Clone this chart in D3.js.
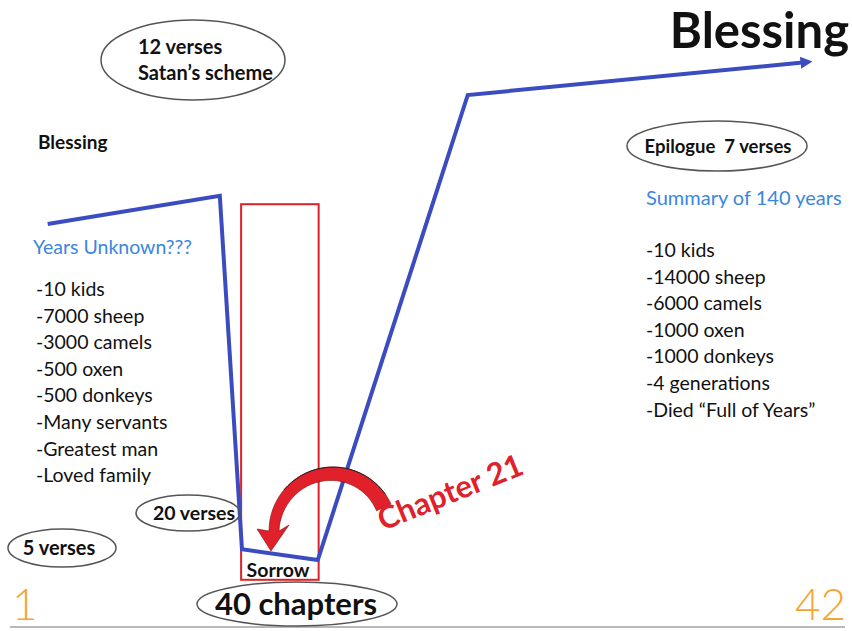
<!DOCTYPE html>
<html>
<head>
<meta charset="utf-8">
<script src="https://cdn.jsdelivr.net/npm/d3@7"></script>
<style>
  body { margin: 0; background: #fff; }
  svg { display: block; font-family: Lato, "Open Sans", sans-serif; }
</style>
</head>
<body>
<div id="chart"></div>
<script>
const width = 852, height = 631;

// journey line: horizontal position (% of page) and blessing level (0-100)
const pathPos   = [5.6, 25.8, 28.4, 37.3, 54.9, 94.8];
const pathLevel = [66, 70.7, 11.8, 10, 87.5, 93];

// sorrow box (position span, level span)
const sorrowPos   = [28.3, 37.4];
const sorrowLevel = [69.3, 6.7];

const leftTitle  = "Years Unknown???";
const leftItems  = ["-10 kids", "-7000 sheep", "-3000 camels", "-500 oxen",
                    "-500 donkeys", "-Many servants", "-Greatest man", "-Loved family"];
const rightTitle = "Summary of 140 years";
const rightItems = ["-10 kids", "-14000 sheep", "-6000 camels", "-1000 oxen",
                    "-1000 donkeys", "-4 generations", "-Died \u201cFull of Years\u201d"];
const chapterEnds = ["1", "42"];

const svg = d3.select("#chart").append("svg")
  .attr("width", width).attr("height", height);

const x = d3.scaleLinear().domain([0, 100]).range([0, width]);
const y = d3.scaleLinear().domain([0, 100]).range([620, 20]);

const blue = "#3a4cbf", red = "#e0202a", lblue = "#3a86e0", orange = "#f6a532";

/*---- defs ----*/
svg.append("defs").append("marker")
  .attr("id", "arrowBlue")
  .attr("viewBox", "0 0 10 10")
  .attr("refX", 6).attr("refY", 5)
  .attr("markerWidth", 3).attr("markerHeight", 3)
  .attr("orient", "auto")
  .append("path").attr("d", "M0,0 L10,5 L0,10 z").attr("fill", blue);

/*---- bottom rule ----*/
svg.append("line")
  .attr("x1", 10).attr("x2", 845).attr("y1", 627).attr("y2", 627)
  .attr("stroke", "#b8b8b8").attr("stroke-width", 2);

/*---- sorrow box ----*/
svg.append("rect")
  .attr("x", x(sorrowPos[0])).attr("y", y(sorrowLevel[0]))
  .attr("width", x(sorrowPos[1]) - x(sorrowPos[0]))
  .attr("height", y(sorrowLevel[1]) - y(sorrowLevel[0]))
  .attr("fill", "none").attr("stroke", red).attr("stroke-width", 2);

/*---- journey line ----*/
const pts = pathPos.map((p, i) => [x(p), y(pathLevel[i])]);
svg.append("path")
  .attr("d", d3.line()(pts))
  .attr("fill", "none").attr("stroke", blue).attr("stroke-width", 4)
  .attr("stroke-linejoin", "miter")
  .attr("marker-end", "url(#arrowBlue)");

/*---- ellipses ----*/
const ellipses = [
  {cx: 193, cy: 60, rx: 92, ry: 40},
  {cx: 717, cy: 146, rx: 90, ry: 25},
  {cx: 188, cy: 513, rx: 52, ry: 18},
  {cx: 62, cy: 548, rx: 54, ry: 19},
  {cx: 297, cy: 604, rx: 100, ry: 22}
];
svg.selectAll("ellipse.note").data(ellipses).enter().append("ellipse")
  .attr("class", "note")
  .attr("cx", d => d.cx).attr("cy", d => d.cy)
  .attr("rx", d => d.rx).attr("ry", d => d.ry)
  .attr("fill", "none").attr("stroke", "#555").attr("stroke-width", 1.5);

/*---- bold labels ----*/
const bold = [
  {t: "12 verses", x: 138, y: 54, s: 20, a: "start"},
  {t: "Satan\u2019s scheme", x: 138, y: 80, s: 20, a: "start"},
  {t: "Blessing", x: 38, y: 149, s: 19, a: "start"},
  {t: "Blessing", x: 849, y: 48, s: 49, a: "end"},
  {t: "Epilogue  7 verses", x: 718, y: 153, s: 18.5, a: "middle"},
  {t: "20 verses", x: 194, y: 520, s: 19.5, a: "middle"},
  {t: "5 verses", x: 59, y: 555, s: 20, a: "middle"},
  {t: "Sorrow", x: 278, y: 577, s: 19.5, a: "middle"},
  {t: "40 chapters", x: 296, y: 615, s: 31, a: "middle"}
];
svg.selectAll("text.bold").data(bold).enter().append("text")
  .attr("class", "bold")
  .attr("x", d => d.x).attr("y", d => d.y)
  .attr("text-anchor", d => d.a)
  .attr("font-size", d => d.s).attr("font-weight", "bold")
  .attr("fill", "#111")
  .style("white-space", "pre")
  .text(d => d.t);

/*---- lists ----*/
svg.append("text").attr("x", 33).attr("y", 254)
  .attr("font-size", 19.5).attr("fill", lblue).text(leftTitle);
svg.append("g").selectAll("text").data(leftItems).enter().append("text")
  .attr("x", 36).attr("y", (d, i) => 296 + i * 26.6)
  .attr("font-size", 19.5).attr("fill", "#111").text(d => d);

svg.append("text").attr("x", 646).attr("y", 205)
  .attr("font-size", 20).attr("fill", lblue).text(rightTitle);
svg.append("g").selectAll("text").data(rightItems).enter().append("text")
  .attr("x", 646).attr("y", (d, i) => 257 + i * 26.6)
  .attr("font-size", 19.5).attr("fill", "#111").text(d => d);

/*---- chapter 1 and 42 ----*/
svg.selectAll("text.end").data(chapterEnds).enter().append("text")
  .attr("class", "end")
  .attr("x", (d, i) => i ? 846 : 12)
  .attr("y", 620)
  .attr("text-anchor", (d, i) => i ? "end" : "start")
  .attr("font-size", 44).attr("font-weight", 300)
  .attr("fill", orange).text(d => d);

/*---- curved red arrow ----*/
const C = [333, 531], rOut = 64;
const rad = a => a * Math.PI / 180;
const outer = [], inner = [];
for (let a = -25; a >= -180; a -= 5) {
  const t = (a + 25) / -155;
  const rIn = 48 + 6 * t;
  outer.push([C[0] + rOut * Math.cos(rad(a)), C[1] + rOut * Math.sin(rad(a))]);
  inner.push([C[0] + rIn * Math.cos(rad(a)), C[1] + rIn * Math.sin(rad(a))]);
}
const head = [[C[0] - 76, C[1] - 2], [C[0] - 62, C[1] + 20], [C[0] - 44, C[1] - 6]];
const shape = outer.concat([head[0], head[1], head[2]], inner.slice().reverse());
svg.append("path")
  .attr("d", d3.line()(shape) + "Z")
  .attr("fill", red).attr("stroke", "#7a1010").attr("stroke-width", 0.6);
svg.append("path")
  .attr("d", d3.line().curve(d3.curveBasis)(outer.slice(2, 24)))
  .attr("fill", "none").attr("stroke", "#222").attr("stroke-width", 1);

svg.append("text")
  .attr("transform", "translate(383,531) rotate(-22)")
  .attr("font-size", 31).attr("font-weight", "bold")
  .attr("fill", red).text("Chapter 21");
</script>
</body>
</html>
